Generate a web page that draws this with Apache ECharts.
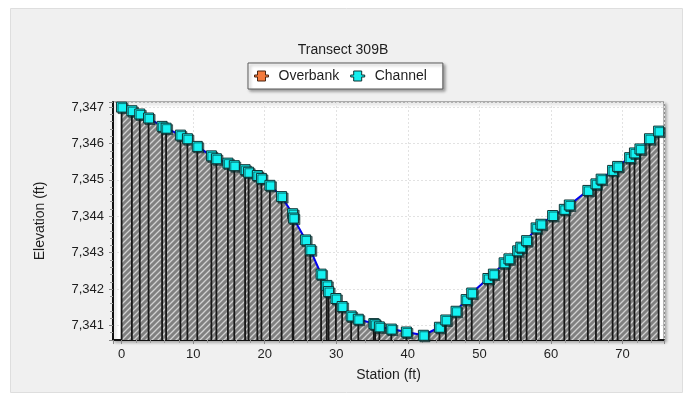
<!DOCTYPE html>
<html><head><meta charset="utf-8">
<script src="https://cdn.jsdelivr.net/npm/echarts@6/dist/echarts.min.js"></script>
<style>html,body{margin:0;padding:0;background:#fff}#c{width:686px;height:396px}</style>
</head><body><div id="c"></div>
<script>
// ---- data ----
const titleText = 'Transect 309B';
const legendNames = ['Overbank', 'Channel'];
const xAxisName = 'Station (ft)';
const yAxisName = 'Elevation (ft)';
const stations = [0.0, 1.44, 2.54, 3.77, 5.66, 6.22, 8.22, 9.20, 10.58, 12.55, 13.25, 14.86, 15.75, 17.26, 17.75, 18.97, 19.54, 20.73, 22.36, 23.90, 24.01, 25.72, 26.37, 27.88, 28.68, 28.93, 29.95, 30.82, 32.08, 33.08, 35.25, 35.43, 36.02, 37.69, 39.80, 42.18, 44.42, 45.31, 46.74, 48.15, 48.93, 51.19, 51.96, 53.46, 54.13, 55.35, 55.79, 56.60, 57.93, 58.60, 60.24, 61.87, 62.57, 65.16, 66.29, 67.02, 68.62, 69.32, 71.00, 71.67, 72.44, 73.77, 75.05];
const elevations = [7347.00, 7346.90, 7346.81, 7346.70, 7346.47, 7346.42, 7346.23, 7346.13, 7345.92, 7345.66, 7345.58, 7345.46, 7345.39, 7345.28, 7345.21, 7345.12, 7345.04, 7344.85, 7344.54, 7344.07, 7343.95, 7343.35, 7343.08, 7342.41, 7342.10, 7341.93, 7341.74, 7341.52, 7341.26, 7341.17, 7341.05, 7341.03, 7340.96, 7340.90, 7340.82, 7340.73, 7340.95, 7341.15, 7341.39, 7341.71, 7341.89, 7342.29, 7342.41, 7342.72, 7342.83, 7343.05, 7343.15, 7343.33, 7343.68, 7343.78, 7344.02, 7344.19, 7344.31, 7344.71, 7344.89, 7345.02, 7345.26, 7345.37, 7345.61, 7345.74, 7345.85, 7346.13, 7346.34];
const overbankStations = [];
const overbankElevations = [];
const X_MIN = -1.2, X_MAX = 75.8;
const Y_MIN = 7340.6, Y_MAX = 7347.14;

// ---- build ----
const pts = stations.map((s, i) => [s, elevations[i]]);
const obPts = overbankStations.map((s, i) => [s, overbankElevations[i]]);

const T = 6;
const tile = document.createElement('canvas');
tile.width = T; tile.height = T;
const g = tile.getContext('2d');
g.fillStyle = '#808080'; g.fillRect(0, 0, T, T);
g.strokeStyle = '#d2d2d2'; g.lineWidth = 1.3;
g.beginPath();
g.moveTo(-1, T + 1); g.lineTo(T + 1, -1);
g.moveTo(-1, 1); g.lineTo(1, -1);
g.moveTo(T - 1, T + 1); g.lineTo(T + 1, T - 1);
g.stroke();

const legendIcon = 'path://M0,4 L3,4 L3,0 L11,0 L11,4 L14,4 L14,6 L11,6 L11,10 L3,10 L3,6 L0,6 Z';
const FONT = 'Liberation Sans';
const isInt = v => Math.abs(v - Math.round(v)) < 1e-6;

const chart = echarts.init(document.getElementById('c'), null, { renderer: 'canvas' });
chart.setOption({
  animation: false,
  backgroundColor: '#ffffff',
  textStyle: { fontFamily: FONT },
  graphic: [{
    type: 'rect', z: -10, silent: true,
    shape: { x: 10.5, y: 8.5, width: 672, height: 384 },
    style: { fill: '#f0f0f0', stroke: '#dedede', lineWidth: 1 }
  }],
  title: {
    text: titleText, left: 'center', top: 38,
    textStyle: { fontSize: 14, fontWeight: 'normal', color: '#1e1e1e', fontFamily: FONT }
  },
  legend: {
    data: [
      { name: legendNames[0], icon: legendIcon, itemStyle: { color: '#f47a3c', borderColor: '#4a2410', borderWidth: 1 } },
      { name: legendNames[1], icon: legendIcon, itemStyle: { color: '#12eeee', borderColor: '#0f3333', borderWidth: 1 } }
    ],
    left: 248, top: 63,
    itemWidth: 14, itemHeight: 11, itemGap: 11,
    padding: [6, 16, 6, 6],
    backgroundColor: '#ffffff', borderColor: '#5a5a5a', borderWidth: 1,
    shadowColor: 'rgba(0,0,0,0.35)', shadowBlur: 3, shadowOffsetX: 2, shadowOffsetY: 2,
    textStyle: { fontSize: 14, color: '#1e1e1e', fontFamily: FONT, padding: [0, 0, 0, 5] }
  },
  grid: {
    left: 113, right: 22, top: 102, bottom: 56,
    show: true, backgroundColor: '#ffffff', borderColor: '#6e6e6e', borderWidth: 1,
    shadowColor: 'rgba(0,0,0,0.3)', shadowBlur: 3, shadowOffsetX: 2, shadowOffsetY: 2
  },
  xAxis: {
    type: 'value', min: X_MIN, max: X_MAX, splitNumber: 8, position: 'bottom',
    name: xAxisName, nameLocation: 'middle', nameGap: 28,
    nameTextStyle: { fontSize: 14, color: '#1e1e1e', fontFamily: FONT },
    axisLine: { show: true, onZero: false, lineStyle: { color: '#111', width: 2 } },
    axisTick: { show: true, length: 4, lineStyle: { color: '#8a8a8a' } },
    minorTick: { show: true, splitNumber: 5, length: 3, lineStyle: { color: '#9a9a9a' } },
    axisLabel: { fontSize: 13, color: '#1e1e1e', margin: 8, fontFamily: FONT,
      showMinLabel: false, showMaxLabel: false,
      formatter: v => isInt(v / 10) ? String(Math.round(v)) : '' },
    splitLine: { show: true, lineStyle: { color: '#e2e2e2', type: [2, 2], width: 1 } }
  },
  yAxis: {
    type: 'value', min: Y_MIN, max: Y_MAX, splitNumber: 7, position: 'left',
    name: yAxisName, nameLocation: 'middle', nameGap: 66, nameRotate: 90,
    nameTextStyle: { fontSize: 14, color: '#1e1e1e', fontFamily: FONT },
    axisLine: { show: true, onZero: false, lineStyle: { color: '#111', width: 2 } },
    axisTick: { show: true, length: 4, lineStyle: { color: '#8a8a8a' } },
    minorTick: { show: true, splitNumber: 5, length: 3, lineStyle: { color: '#9a9a9a' } },
    axisLabel: { fontSize: 13, color: '#1e1e1e', margin: 9, fontFamily: FONT,
      showMinLabel: false, showMaxLabel: false,
      formatter: v => isInt(v) ? Math.round(v).toLocaleString('en-US') : '' },
    splitLine: { show: true, lineStyle: { color: '#e2e2e2', type: [2, 2], width: 1 } }
  },
  series: [
    {
      name: 'area', type: 'line', data: pts,
      showSymbol: false, symbol: 'none', silent: true, z: 2,
      lineStyle: { width: 0, opacity: 0 },
      areaStyle: { origin: 'start', opacity: 1, color: { image: tile, repeat: 'repeat' } }
    },
    {
      name: 'stems', type: 'custom', data: pts, z: 3, silent: true,
      renderItem: (params, api) => {
        const p = api.coord([api.value(0), api.value(1)]);
        const b = api.coord([api.value(0), Y_MIN]);
        return { type: 'line', shape: { x1: p[0], y1: p[1], x2: b[0], y2: b[1] },
          style: { stroke: '#161616', lineWidth: 1.8 } };
      }
    },
    {
      name: legendNames[0], type: 'line', data: obPts,
      color: '#f47a3c', z: 4
    },
    {
      name: legendNames[1], type: 'line', data: pts, z: 5,
      showAllSymbol: true, symbol: 'rect', symbolSize: 10,
      lineStyle: { color: '#0000ee', width: 2 },
      itemStyle: { color: '#14f2f2', borderColor: '#0f3333', borderWidth: 1,
        shadowColor: 'rgba(0,40,40,0.6)', shadowBlur: 0, shadowOffsetX: 1.5, shadowOffsetY: 1.5 }
    }
  ]
});
</script>
</body></html>
